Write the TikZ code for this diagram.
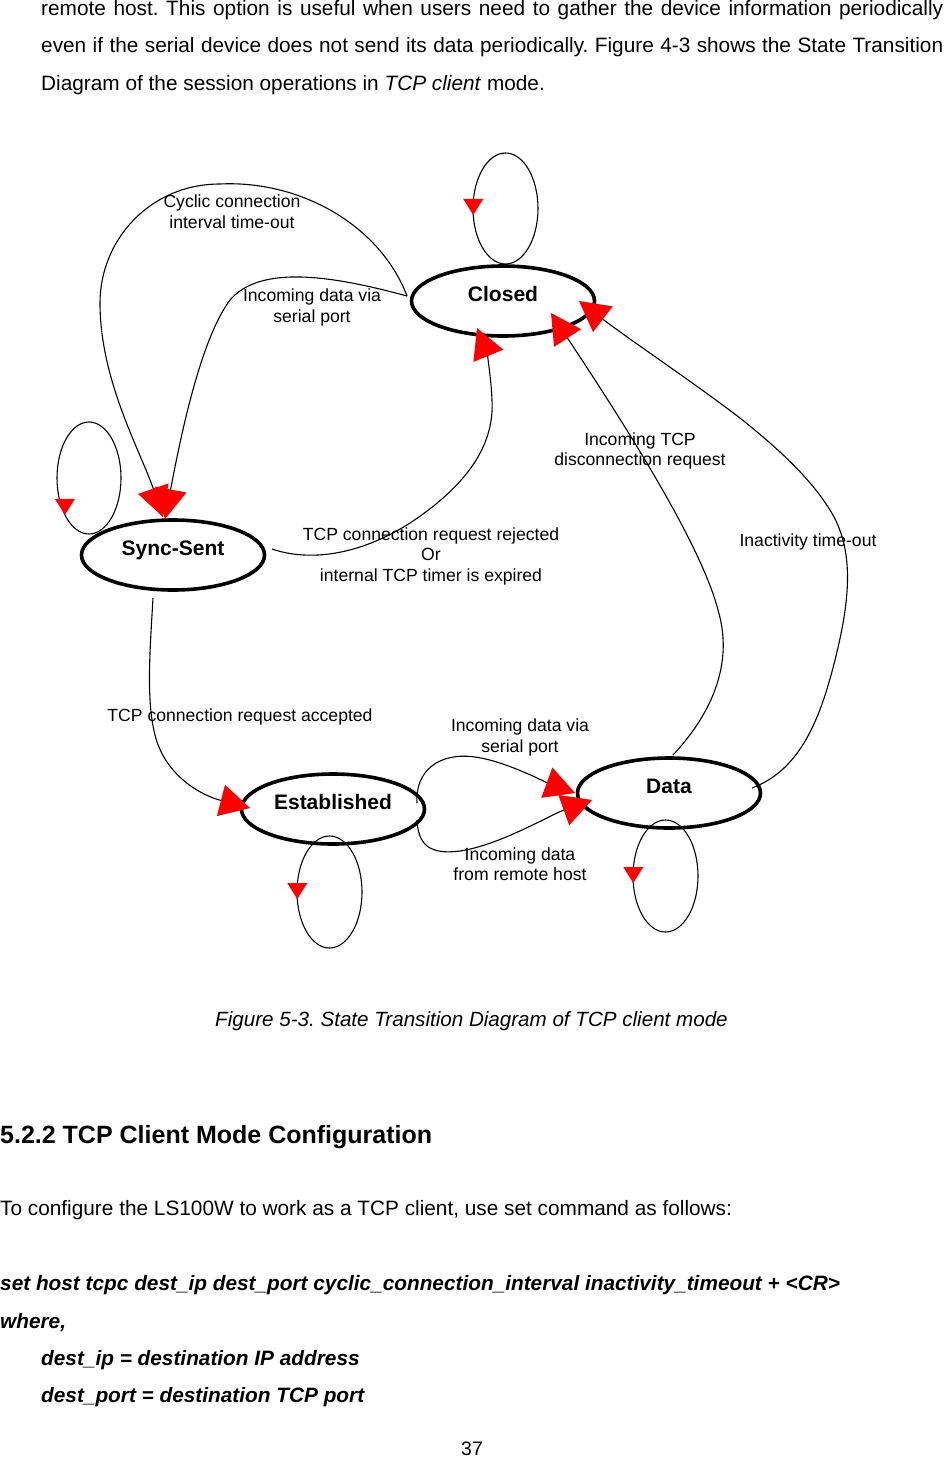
\documentclass[tikz,border=0pt]{standalone}
\usepackage{fontspec}
\setmainfont{Liberation Sans}
\usetikzlibrary{arrows.meta,shapes.geometric,calc,decorations.markings}
\frenchspacing
\begin{document}
\begin{tikzpicture}[x=1pt,y=-1pt,
  state/.style={ellipse, draw, line width=3.6pt, minimum width=183pt, minimum height=70pt,
    inner sep=0pt, text height=2pt, text depth=2pt, font=\fontsize{21}{24}\selectfont\bfseries},
  conn/.style={line width=1.1pt, -{Triangle[length=30pt,width=32pt,color=red]}},
  selfloop/.style={line width=1.1pt, postaction={decorate},
    decoration={markings, mark=at position #1 with {\pgftransformresetnontranslations
      \fill[red] (0pt,0pt) -- (-10pt,16pt) -- (10pt,16pt) -- cycle;}}},
  lbl/.style={font=\fontsize{17.6}{20.5}\selectfont, align=center, inner sep=0pt},
  body/.style={font=\fontsize{20.8}{25}\selectfont, inner sep=0pt, anchor=base west},
  bodybi/.style={body, font=\fontsize{20.8}{25}\selectfont\bfseries\itshape},
]
\useasboundingbox (0,0) rectangle (945,1457);

% running text
\node[body] (p1) at (41,15) {\makebox[902pt][s]{remote host. This option is useful when users need to gather the device information periodically}};
\node[body] (p2) at (41,52.5) {\makebox[902pt][s]{even if the serial device does not send its data periodically. Figure 4-3 shows the State Transition}};
\node[body] (p3) at (41,90) {Diagram of the session operations in \textit{TCP client} mode.};

% states
\node[state] (closed) at (503,301) {Closed};
\node[state] (sync) at (173,555) {Sync-Sent};
\node[state] (est) at (333,809) {Established};
\node[state] (data) at (669,793) {Data};

% self loops
\draw[selfloop=0.523] ($(closed)+(35,-92.5)$) arc[start angle=0, end angle=360, x radius=32.5pt, y radius=55.5pt];
\draw[selfloop=0.635] ($(sync)+(-52,-77)$) arc[start angle=0, end angle=360, x radius=32pt, y radius=56pt];
\draw[selfloop=0.525] ($(est)+(29,83)$) arc[start angle=0, end angle=360, x radius=32.5pt, y radius=56pt];
\draw[selfloop=0.525] ($(data)+(29,83)$) arc[start angle=0, end angle=360, x radius=32.5pt, y radius=56pt];

% transitions
\draw[conn] ($(closed)+(-96,-5)$) .. controls (380,225) and (300,180) .. (220,184)
  .. controls (150,184) and (100,240) .. (100,303)
  .. controls (100,380) and (140,450) .. ($(sync)+(-10,-38)$)
  node[lbl] (l1) at (232,211.5) {Cyclic connection\\interval time-out};

\draw[conn] ($(closed)+(-96,-5)$) .. controls (330,275) and (260,265) .. (230,300)
  .. controls (200,340) and (180,440) .. ($(sync)+(-8,-36)$)
  node[lbl] (l2) at (312,307.5) {Incoming data via\\serial port};

\draw[conn] ($(sync)+(99,-6)$) .. controls (310,562) and (360,555) .. (410,523)
  .. controls (460,490) and (495,450) .. (492,400)
  .. controls (491,375) and (486,350) .. ($(closed)+(-26,27)$)
  node[lbl] (l4) at (431,556) {TCP connection request rejected\\Or\\internal TCP timer is expired};

\draw[conn] ($(data)+(4,-38)$) .. controls (715,710) and (733,660) .. (718,610)
  .. controls (700,540) and (615,410) .. ($(closed)+(48,12)$)
  node[lbl] (l3) at (640,451) {Incoming TCP\\disconnection request};

\draw[conn] ($(data)+(83,-5)$) .. controls (800,770) and (820,720) .. (835,660)
  .. controls (850,600) and (855,550) .. (830,510)
  .. controls (810,478) and (780,450) .. (740,418)
  .. controls (690,380) and (630,340) .. ($(closed)+(76,0)$)
  node[lbl] (l5) at (808,542) {Inactivity time-out};

\draw[conn] ($(sync)+(-20,43)$) .. controls (150,650) and (146,700) .. (155,735)
  .. controls (165,775) and (200,795) .. ($(est)+(-83,-1)$)
  node[lbl] (l6) at (240,717) {TCP connection request accepted};

\draw[conn] ($(est)+(84,-6)$) .. controls (415,770) and (440,752) .. (475,757)
  .. controls (505,761) and (545,782) .. ($(data)+(-94,0)$)
  node[lbl] (l7) at (520,737.5) {Incoming data via\\serial port};

\draw[conn] ($(est)+(84,11)$) .. controls (418,845) and (430,855) .. (460,851)
  .. controls (500,845) and (550,815) .. ($(data)+(-77,7)$)
  node[lbl] (l8) at (520,864) {Incoming data\\from remote host};

% caption and following text
\node[anchor=base, inner sep=0pt, font=\fontsize{20.6}{24}\selectfont\itshape] (cap) at (471.5,1026) {Figure 5-3. State Transition Diagram of TCP client mode};
\node[anchor=base west, inner sep=0pt, font=\fontsize{25}{30}\selectfont\bfseries] (head) at (0,1143) {5.2.2 TCP Client Mode Configuration};
\node[body] (t1) at (0,1215) {To configure the LS100W to work as a TCP client, use set command as follows:};
\node[bodybi] (t2) at (0,1290) {set host tcpc dest\_ip dest\_port cyclic\_connection\_interval inactivity\_timeout + <CR>};
\node[bodybi] (t3) at (0,1328) {where,};
\node[bodybi] (t4) at (41,1365) {dest\_ip = destination IP address};
\node[bodybi] (t5) at (41,1402) {dest\_port = destination TCP port};
\node[anchor=base, inner sep=0pt, font=\fontsize{19.5}{23}\selectfont] (pg) at (472,1455) {37};
\end{tikzpicture}
\end{document}
